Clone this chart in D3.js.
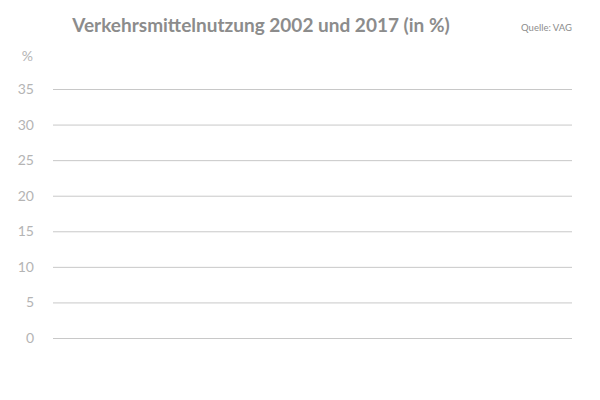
<!DOCTYPE html>
<html>
<head>
<meta charset="utf-8">
<script src="https://cdn.jsdelivr.net/npm/d3@7"></script>
<style>
  body { margin: 0; background: #fff; }
  svg { font-family: Lato, "Open Sans", sans-serif; }
</style>
</head>
<body>
<svg id="chart" width="600" height="400"></svg>
<script>
// chart data (the reference shows an empty chart: only axis + grid)
const categories = [];
const values2002 = [];
const values2017 = [];
const yTicks = [0, 5, 10, 15, 20, 25, 30, 35];
const titleText = "Verkehrsmittelnutzung 2002 und 2017 (in %)";
const sourceText = "Quelle: VAG";

const svg = d3.select("#chart");
const left = 53, right = 572;

const y = d3.scaleLinear().domain([0, 35]).range([338, 89]);
const x = d3.scaleBand().domain(categories).range([left, right]).padding(0.3);

// title
svg.append("text")
  .attr("x", 261).attr("y", 32)
  .attr("text-anchor", "middle")
  .attr("font-size", 19).attr("font-weight", "bold")
  .attr("fill", "#8c8c8c")
  .text(titleText);

svg.append("text")
  .attr("x", 572).attr("y", 31)
  .attr("text-anchor", "end")
  .attr("font-size", 9.5)
  .attr("fill", "#8c8c8c")
  .text(sourceText);

// y axis with grid lines
const yAxis = d3.axisLeft(y)
  .tickValues(yTicks)
  .tickSize(-(right - left))
  .tickPadding(19);

const g = svg.append("g")
  .attr("transform", "translate(" + left + ",0)")
  .call(yAxis);
g.select(".domain").remove();
g.selectAll(".tick line").attr("stroke", "#c8c8c8").attr("stroke-width", 1);
g.selectAll(".tick text")
  .attr("fill", "#b4b4b4")
  .attr("font-size", 14)
  .attr("font-family", "Lato, 'Open Sans', sans-serif");

svg.append("text")
  .attr("x", 33).attr("y", 61)
  .attr("text-anchor", "end")
  .attr("font-size", 14)
  .attr("fill", "#b4b4b4")
  .text("%");

// bars (none in this reference)
const w = x.bandwidth() / 2;
svg.selectAll(".b2002").data(values2002).join("rect")
  .attr("class", "b2002")
  .attr("x", (d, i) => x(categories[i]))
  .attr("y", d => y(d))
  .attr("width", w)
  .attr("height", d => y(0) - y(d))
  .attr("fill", "#9aa7b5");
svg.selectAll(".b2017").data(values2017).join("rect")
  .attr("class", "b2017")
  .attr("x", (d, i) => x(categories[i]) + w)
  .attr("y", d => y(d))
  .attr("width", w)
  .attr("height", d => y(0) - y(d))
  .attr("fill", "#4f6b8a");
</script>
</body>
</html>
